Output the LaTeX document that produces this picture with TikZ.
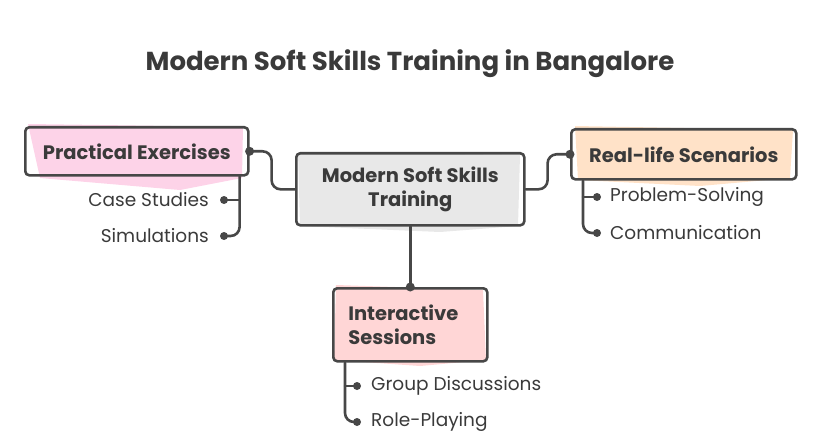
\documentclass[tikz,border=0pt]{standalone}
\usepackage{fontspec}
\setmainfont{Poppins}
\definecolor{ink}{HTML}{474747}
\definecolor{txt}{HTML}{3A3A3A}
\definecolor{pinkf}{HTML}{FDD3E8}
\definecolor{grayf}{HTML}{E8E8E8}
\definecolor{orangef}{HTML}{FFE2C8}
\definecolor{redf}{HTML}{FFD6D6}
\begin{document}
\begin{tikzpicture}[x=1pt,y=-1pt,
  box/.style={draw=ink, line width=2.6pt, rounded corners=4pt, text=txt, font=\bfseries\fontsize{19.5}{24}\selectfont, inner sep=0pt},
  conn/.style={draw=ink, line width=2.6pt, line cap=round, rounded corners=9pt},
  dotc/.style={fill=ink},
  item/.style={text=txt, font=\fontsize{18.5}{22}\selectfont, inner sep=0pt}]
\useasboundingbox (0,0) rectangle (819,441);
% rough fills
\fill[pinkf] (28,124) -- (243,127) -- (242,178) -- (180,190) -- (40,178) -- cycle;
\fill[grayf] (298,152) -- (520,155) -- (518,226) -- (440,232) -- (300,226) -- cycle;
\fill[orangef] (575,126) -- (793,130) -- (790,178) -- (700,186) -- (578,180) -- cycle;
\fill[redf] (336,285) -- (483,290) -- (486,360) -- (420,366) -- (334,360) -- cycle;
% title
\node[text=txt, font=\bfseries\fontsize{26}{30}\selectfont] (title) at (410,64) {Modern Soft Skills Training in Bangalore};
% boxes
\node[box, minimum width=223, minimum height=48, anchor=north west] (pe) at (24,126) {Practical Exercises};
\node[box, minimum width=228, minimum height=72, anchor=north west, align=center] (c) at (295,152) {Modern Soft Skills\\Training};
\node[box, minimum width=225, minimum height=50, anchor=north west] (rl) at (570,128) {Real-life Scenarios};
\node[box, minimum width=154, minimum height=73, anchor=north west, align=left, text width=124, inner xsep=15pt] (is) at (332,287) {Interactive\\Sessions};
% items
\node[item, anchor=east] (cs) at (209,200) {Case Studies};
\node[item, anchor=east] (sim) at (209,236) {Simulations};
\node[item, anchor=west] (ps) at (610,197) {Problem-Solving};
\node[item, anchor=west] (com) at (610,233) {Communication};
\node[item, anchor=west] (gd) at (371,386) {Group Discussions};
\node[item, anchor=west] (rp) at (371,422) {Role-Playing};
% connectors
\draw[conn] (pe.east) -- ++(22,0) |- (c.west);
\fill[dotc] (pe.east) circle (4.5pt);
\draw[conn] (c.east) -- ++(22,0) |- (rl.west);
\fill[dotc] (rl.west) circle (4.5pt);
\draw[conn] (c.south) -- (is.north);
\fill[dotc] (is.north) circle (4.5pt);
% sub branches
\coordinate (pev) at ([xshift=-10]pe.south east);
\coordinate (rlv) at ([xshift=13]rl.south west);
\coordinate (isv) at ([xshift=13]is.south west);
\draw[conn] (pev) |- ([xshift=15]sim.east);
\draw[conn] (cs.east -| pev) -- ([xshift=15]cs.east);
\fill[dotc] ([xshift=15]cs.east) circle (4pt);
\fill[dotc] ([xshift=15]sim.east) circle (4pt);
\draw[conn] (rlv) |- ([xshift=-13]com.west);
\draw[conn] (ps.west -| rlv) -- ([xshift=-13]ps.west);
\fill[dotc] ([xshift=-13]ps.west) circle (4pt);
\fill[dotc] ([xshift=-13]com.west) circle (4pt);
\draw[conn] (isv) |- ([xshift=-14]rp.west);
\draw[conn] (gd.west -| isv) -- ([xshift=-14]gd.west);
\fill[dotc] ([xshift=-14]gd.west) circle (4pt);
\fill[dotc] ([xshift=-14]rp.west) circle (4pt);
\end{tikzpicture}
\end{document}
